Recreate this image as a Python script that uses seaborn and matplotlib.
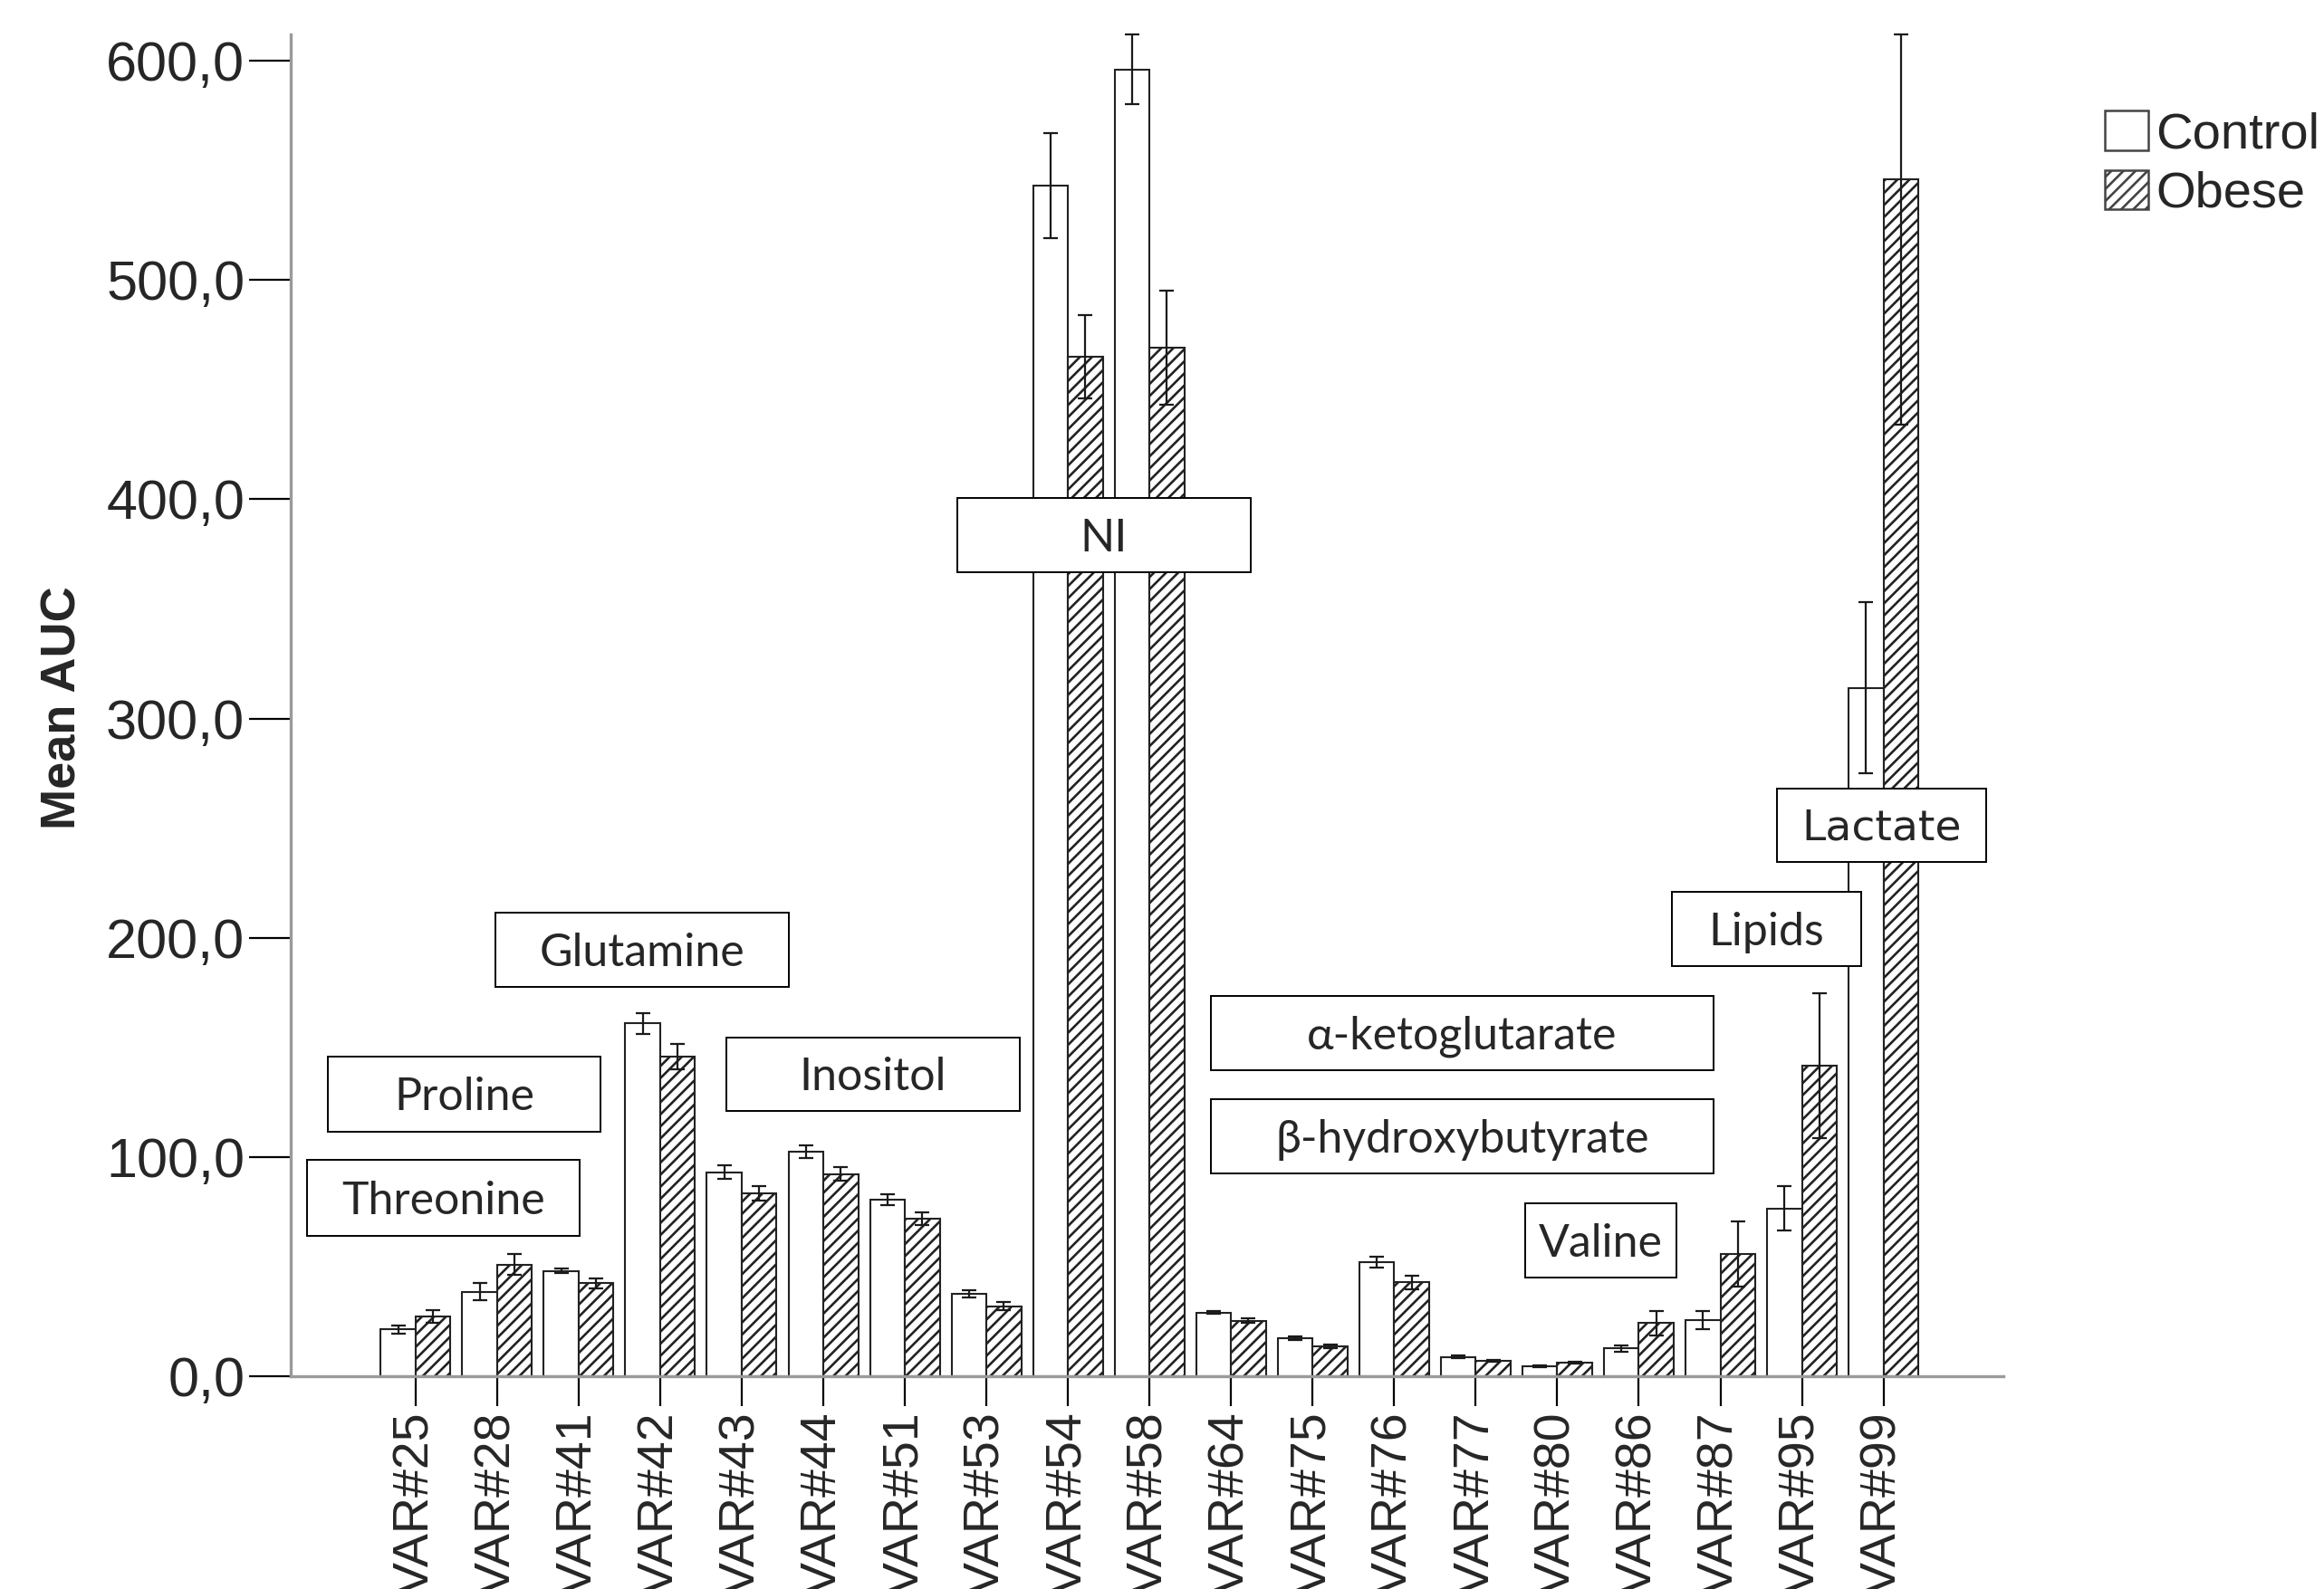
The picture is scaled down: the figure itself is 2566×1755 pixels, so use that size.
import matplotlib
matplotlib.use("Agg")
import matplotlib.pyplot as plt
from matplotlib.patches import Rectangle, Patch
from matplotlib.ticker import FuncFormatter, FixedLocator
import seaborn as sns
import pandas as pd

# ---------------- data ----------------
variables = ["VAR#25", "VAR#28", "VAR#41", "VAR#42", "VAR#43", "VAR#44", "VAR#51",
             "VAR#53", "VAR#54", "VAR#58", "VAR#64", "VAR#75", "VAR#76", "VAR#77",
             "VAR#80", "VAR#86", "VAR#87", "VAR#95", "VAR#99"]
control_mean = [21.3, 38.6, 48.1, 160.9, 93.1, 102.6, 80.6, 37.7, 543.0, 596.0,
                29.1, 17.3, 52.1, 8.8, 4.5, 12.6, 25.6, 76.6, 314.0]
control_err = [2.0, 4.0, 1.2, 4.6, 3.0, 2.9, 2.4, 1.7, 24.0, 16.0,
               0.8, 0.8, 2.6, 0.5, 0.3, 1.6, 4.3, 10.0, 39.0]
obese_mean = [27.3, 51.0, 42.4, 145.8, 83.6, 92.2, 72.0, 32.0, 465.0, 469.0,
              25.3, 13.5, 42.9, 6.9, 6.2, 24.2, 55.9, 141.5, 546.0]
obese_err = [2.9, 4.7, 2.4, 5.9, 3.3, 3.0, 2.9, 1.9, 19.0, 26.0,
             1.0, 0.8, 3.1, 0.4, 0.4, 5.6, 14.9, 33.0, 112.0]
groups = ["Control", "Obese"]
yticks = [0, 100, 200, 300, 400, 500, 600]
YMAX = 612

box_labels = ["Threonine", "Proline", "Glutamine", "Inositol", "NI",
              "\u03b1-ketoglutarate", "\u03b2-hydroxybutyrate", "Valine", "Lipids", "Lactate"]

df = pd.DataFrame({
    "variable": variables * 2,
    "mean": control_mean + obese_mean,
    "group": [groups[0]] * len(variables) + [groups[1]] * len(variables),
})

# ---------------- style ----------------
sns.set_style("white")
plt.rcParams["font.family"] = ["Liberation Sans", "DejaVu Sans"]
plt.rcParams["hatch.linewidth"] = 0.95
plt.rcParams["hatch.color"] = "#222222"

W, H, DPI = 2566, 1755, 200
fig = plt.figure(figsize=(W / DPI, H / DPI), dpi=DPI)
fig.patch.set_facecolor("white")

def fx(px):
    return px / W

def fy(py):
    return 1 - py / H

ax_left, ax_right, ax_top, ax_bottom = 321, 2212, 38, 1520
ax = fig.add_axes([fx(ax_left), fy(ax_bottom), fx(ax_right) - fx(ax_left), fy(ax_top) - fy(ax_bottom)])

sns.barplot(data=df, x="variable", y="mean", hue="group", order=variables,
            hue_order=groups, palette={"Control": "white", "Obese": "white"},
            edgecolor="#222222", linewidth=0.75, width=0.855, errorbar=None,
            legend=False, ax=ax, zorder=2)

for p in ax.containers[1]:
    p.set_hatch("/////")

# error bars, truncated at the top of the value axis like the original chart
for cont, means, errs in zip(ax.containers, [control_mean, obese_mean], [control_err, obese_err]):
    xs = [p.get_x() + p.get_width() / 2 for p in cont]
    lower = list(errs)
    upper = [min(e, YMAX - m) for m, e in zip(means, errs)]
    eb = ax.errorbar(xs, means, yerr=[lower, upper], fmt="none", ecolor="#1a1a1a",
                     elinewidth=0.8, capsize=3.0, capthick=0.8, zorder=3)
    for art in list(eb.lines[1]) + list(eb.lines[2]):
        art.set_clip_on(False)

ax.set_xlim(-1.53, len(variables) - 1 + 1.47)
ax.set_ylim(0, YMAX)
ax.yaxis.set_major_locator(FixedLocator(yticks))
ax.yaxis.set_major_formatter(FuncFormatter(lambda v, pos: f"{v:.1f}".replace(".", ",")))
ax.set_xlabel("")
ax.set_ylabel("")

for side in ["top", "right"]:
    ax.spines[side].set_visible(False)
for side in ["left", "bottom"]:
    ax.spines[side].set_color("#9a9a9a")
    ax.spines[side].set_linewidth(1.2)

ax.tick_params(axis="y", which="major", direction="out", length=16.5, width=0.8,
               color="black", pad=1.8, labelsize=22, left=True)
ax.tick_params(axis="x", which="major", direction="out", length=12, width=0.8,
               color="black", pad=2.2, labelsize=20, bottom=True, labelrotation=90)

fig.text(fx(69), fy(782), "Mean AUC", rotation=90, ha="center", va="center",
         fontsize=19.5, fontweight="bold")

# legend
handles = [Patch(facecolor="white", edgecolor="#444444", linewidth=0.9, label=groups[0]),
           Patch(facecolor="white", edgecolor="#444444", linewidth=0.9, hatch="/////", label=groups[1])]
fig.legend(handles=handles, loc="upper left", bbox_to_anchor=(fx(2324), fy(122)),
           frameon=False, fontsize=20.2, handlelength=0.86, handleheight=0.82,
           handletextpad=0.14, labelspacing=0.22, borderpad=0, borderaxespad=0)

# annotation boxes (pixel positions on the figure)
box_pos = [
    (339, 1281, 640, 1365),
    (362, 1167, 663, 1250),
    (547, 1008, 871, 1090),
    (802, 1146, 1126, 1227),
    (1057, 550, 1381, 632),
    (1337, 1100, 1892, 1182),
    (1337, 1214, 1892, 1296),
    (1684, 1329, 1851, 1411),
    (1846, 985, 2055, 1067),
    (1962, 871, 2193, 952),
]
for label, (x0, y0, x1, y1) in zip(box_labels, box_pos):
    rect = Rectangle((fx(x0), fy(y1)), fx(x1) - fx(x0), fy(y0) - fy(y1),
                     transform=fig.transFigure, facecolor="white", edgecolor="black",
                     linewidth=0.7, zorder=6, clip_on=False)
    ax.add_artist(rect)
    fam = ["DejaVu Sans"] if label == "Lactate" else ["Lato", "DejaVu Sans"]
    ax.text(fx((x0 + x1) / 2), fy((y0 + y1) / 2 + 4), label, transform=fig.transFigure,
            ha="center", va="center", fontsize=18 if label != "Lactate" else 17,
            family=fam, zorder=7, clip_on=False)

fig.savefig("out.png", dpi=DPI)
